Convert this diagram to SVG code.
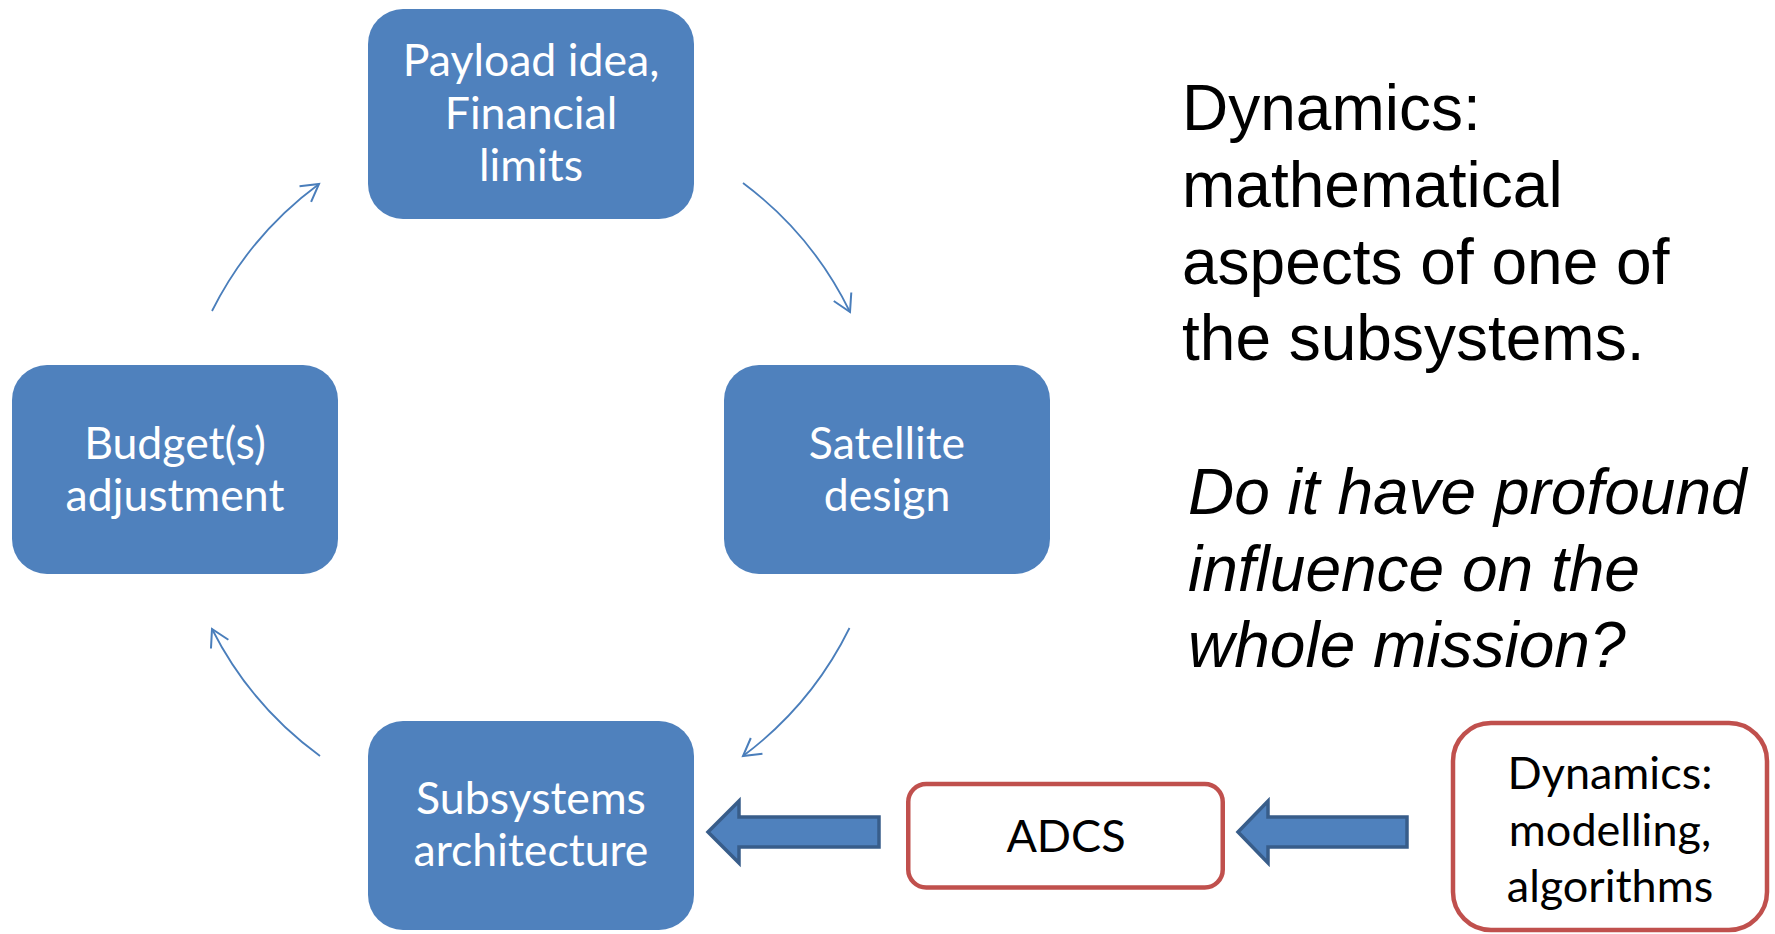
<svg xmlns="http://www.w3.org/2000/svg" width="1775" height="934" viewBox="0 0 1775 934">
<style>
.box{fill:#4F81BD;}
.wt{fill:#FFFFFF;font-family:Lato,"Open Sans",sans-serif;font-size:44.6px;text-anchor:middle;}
.rbox{fill:#FFFFFF;stroke:#C0504D;stroke-width:4.5;}
.bt{fill:#000000;font-family:Lato,"Open Sans",sans-serif;font-size:45px;text-anchor:middle;}
.arc{fill:none;stroke:#4A7EBB;stroke-width:1.8;marker-end:url(#open);}
.blk{fill:#4F81BD;stroke:#385D8A;stroke-width:3.5;stroke-linejoin:miter;}
.rt{fill:#000000;font-family:"Liberation Sans",Arial,sans-serif;font-size:64px;}
.it{font-style:italic;}
</style>
<defs>
<marker id="open" markerUnits="userSpaceOnUse" viewBox="-20 -12 22 24" refX="0" refY="0" markerWidth="22" markerHeight="24" orient="auto" overflow="visible">
<path d="M-17,-9.75 L0,0 L-17,9.75" fill="none" stroke="#4A7EBB" stroke-width="2"/>
</marker>
</defs>
<g id="node-payload">
<rect class="box" x="368" y="9" width="326" height="210" rx="35"/>
<text class="wt" x="531" y="76">Payload idea,</text>
<text class="wt" x="531" y="128.5">Financial</text>
<text class="wt" x="531" y="181">limits</text>
</g>
<g id="node-satellite">
<rect class="box" x="724" y="365" width="326" height="209" rx="35"/>
<text class="wt" x="887" y="459">Satellite</text>
<text class="wt" x="887" y="511">design</text>
</g>
<g id="node-subsystems">
<rect class="box" x="368" y="721" width="326" height="209" rx="35"/>
<text class="wt" x="531" y="813.5">Subsystems</text>
<text class="wt" x="531" y="866">architecture</text>
</g>
<g id="node-budget">
<rect class="box" x="12" y="365" width="326" height="209" rx="35"/>
<text class="wt" x="175" y="459">Budget(s)</text>
<text class="wt" x="175" y="511">adjustment</text>
</g>
<g id="node-adcs">
<rect class="rbox" x="908.25" y="784" width="314.5" height="103.5" rx="18"/>
<text class="bt" x="1066" y="851.5">ADCS</text>
</g>
<g id="node-dynamics">
<rect class="rbox" x="1453" y="723" width="314" height="207" rx="38"/>
<text class="bt" x="1610" y="789">Dynamics:</text>
<text class="bt" x="1610" y="846">modelling,</text>
<text class="bt" x="1610" y="902">algorithms</text>
</g>
<g id="connectors">
<path class="arc" d="M212,311 A356,356 0 0 1 319,184"/>
<path class="arc" d="M743,183 A356,356 0 0 1 850,312"/>
<path class="arc" d="M849.5,628 A356,356 0 0 1 743,756"/>
<path class="arc" d="M320,756 A356,356 0 0 1 212,629"/>
<path class="blk" d="M708,832 L739,801 L739,817 L879,817 L879,847 L739,847 L739,863 Z"/>
<path class="blk" d="M1238,832 L1268,801 L1268,817 L1407,817 L1407,847 L1268,847 L1268,863 Z"/>
</g>
<g id="note">
<text class="rt" x="1182" y="130">Dynamics:</text>
<text class="rt" x="1182" y="207">mathematical</text>
<text class="rt" x="1182" y="284">aspects of one of</text>
<text class="rt" x="1182" y="360">the subsystems.</text>
<text class="rt it" x="1188" y="514">Do it have profound</text>
<text class="rt it" x="1188" y="590.5">influence on the</text>
<text class="rt it" x="1188" y="667">whole mission?</text>
</g>
</svg>
